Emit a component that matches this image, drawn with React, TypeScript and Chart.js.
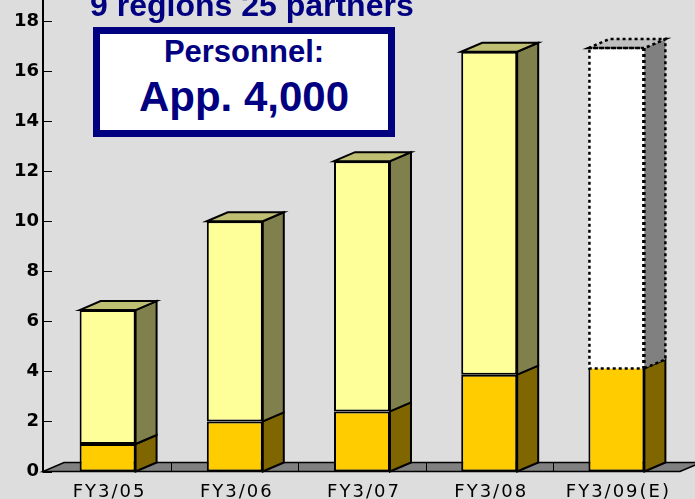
import React, { useEffect, useRef } from 'react';
import { Chart, registerables } from 'chart.js';

Chart.register(...registerables);

// ---- data ----
const categories = ['FY3/05', 'FY3/06', 'FY3/07', 'FY3/08', 'FY3/09(E)'];
const lowerValues = [1.1, 2.0, 2.4, 3.87, 4.12];
const upperValues = [5.35, 8.0, 10.0, 12.9, 12.8];
const estimateIndex = 4;
const yMin = 0;
const yMax = 18;
const yStep = 2;

const titleText = '9 regions 25 partners';
const boxLine1 = 'Personnel:';
const boxLine2 = 'App. 4,000';

// ---- styles ----
const BG = '#dddddd';
const NAVY = '#000080';
const LOW_FRONT = '#ffcc00';
const LOW_SIDE = '#806600';
const UP_FRONT = '#ffff99';
const UP_SIDE = '#80804c';
const UP_TOP = '#bfbf73';
const EST_FRONT = '#ffffff';
const EST_SIDE = '#808080';
const EST_TOP = '#c0c0c0';
const FLOOR = '#808080';
const DX = 21;
const DY = 9;
const AXIS_X = 43;

const threeD = {
  id: 'threeD',
  beforeDatasetsDraw(chart: any) {
    const { ctx, chartArea, scales } = chart;
    const xs = scales.x;
    const ys = scales.y;
    const y0 = ys.getPixelForValue(0);
    const right = chartArea.right;
    ctx.save();
    ctx.beginPath();
    ctx.moveTo(AXIS_X, y0);
    ctx.lineTo(right, y0);
    ctx.lineTo(right + DX, y0 - DY);
    ctx.lineTo(AXIS_X + DX, y0 - DY);
    ctx.closePath();
    ctx.fillStyle = FLOOR;
    ctx.fill();
    ctx.lineWidth = 1.5;
    ctx.strokeStyle = '#000';
    ctx.stroke();
    ctx.lineWidth = 1;
    for (let k = 1; k < categories.length; k++) {
      const xb = Math.round((xs.getPixelForValue(k - 1) + xs.getPixelForValue(k)) / 2) + 0.5;
      ctx.beginPath();
      ctx.moveTo(xb, y0);
      ctx.lineTo(xb, y0 - DY);
      ctx.stroke();
    }
    ctx.restore();
  },
  afterDatasetsDraw(chart: any) {
    const { ctx } = chart;
    ctx.save();
    ctx.strokeStyle = '#000';
    ctx.lineJoin = 'miter';
    for (let d = 0; d < 2; d++) {
      const meta = chart.getDatasetMeta(d);
      meta.data.forEach((el: any, i: number) => {
        const p = el.getProps(['x', 'y', 'base', 'width'], true);
        const left = p.x - p.width / 2;
        const r = p.x + p.width / 2;
        const top = Math.min(p.y, p.base);
        const bottom = Math.max(p.y, p.base);
        const est = d === 1 && i === estimateIndex;
        ctx.setLineDash(est ? [3, 3] : []);
        ctx.lineWidth = est ? 2.5 : 2;
        // side face
        ctx.beginPath();
        ctx.moveTo(r, bottom);
        ctx.lineTo(r + DX, bottom - DY);
        ctx.lineTo(r + DX, top - DY);
        ctx.lineTo(r, top);
        ctx.closePath();
        ctx.fillStyle = d === 0 ? LOW_SIDE : est ? EST_SIDE : UP_SIDE;
        ctx.fill();
        ctx.stroke();
        if (d === 1) {
          // top face
          ctx.beginPath();
          ctx.moveTo(left, top);
          ctx.lineTo(left + DX, top - DY);
          ctx.lineTo(r + DX, top - DY);
          ctx.lineTo(r, top);
          ctx.closePath();
          ctx.fillStyle = est ? EST_TOP : UP_TOP;
          ctx.fill();
          ctx.stroke();
        }
        if (est) {
          ctx.strokeRect(left + 1, top, p.width - 2, bottom - top);
        }
      });
    }
    ctx.restore();
  },
  afterDraw(chart: any) {
    const { ctx, scales } = chart;
    const ys = scales.y;
    const xs = scales.x;
    const y0 = ys.getPixelForValue(0);
    ctx.save();
    // y axis line
    ctx.strokeStyle = '#000';
    ctx.lineWidth = 2;
    ctx.beginPath();
    ctx.moveTo(AXIS_X, 0);
    ctx.lineTo(AXIS_X, y0 + 1);
    ctx.stroke();
    // inward tick marks
    ctx.lineWidth = 1;
    for (let v = yMin; v <= yMax; v += yStep) {
      const py = Math.round(ys.getPixelForValue(v)) + 0.5;
      ctx.beginPath();
      ctx.moveTo(AXIS_X, py);
      ctx.lineTo(AXIS_X + 9, py);
      ctx.stroke();
    }
    // x labels
    ctx.fillStyle = '#000';
    ctx.font = '18px "DejaVu Sans"';
    (ctx as any).letterSpacing = '2px';
    ctx.textAlign = 'center';
    ctx.textBaseline = 'alphabetic';
    categories.forEach((c, i) => {
      ctx.fillText(c, xs.getPixelForValue(i) + 2, 497);
    });
    ctx.restore();
  },
};

export default function App() {
  const ref = useRef<HTMLCanvasElement>(null);
  useEffect(() => {
    const chart = new Chart(ref.current as HTMLCanvasElement, {
      type: 'bar',
      data: {
        labels: categories,
        datasets: [
          {
            label: 'lower',
            data: lowerValues,
            backgroundColor: LOW_FRONT,
            borderColor: '#000',
            borderWidth: (c: any) =>
              c.dataIndex === estimateIndex ? { top: 0, left: 2, right: 2, bottom: 2 } : 2,
            borderSkipped: false,
          },
          {
            label: 'upper',
            data: upperValues,
            backgroundColor: (c: any) => (c.dataIndex === estimateIndex ? EST_FRONT : UP_FRONT),
            borderColor: '#000',
            borderWidth: (c: any) => (c.dataIndex === estimateIndex ? 0 : 2),
            borderSkipped: false,
          },
        ],
      } as any,
      options: {
        responsive: false,
        animation: false,
        layout: { padding: { top: 21, right: 15, left: 0, bottom: 0 } },
        datasets: { bar: { categoryPercentage: 1, barPercentage: 0.44 } },
        plugins: { legend: { display: false }, tooltip: { enabled: false } },
        scales: {
          x: {
            stacked: true,
            grid: { display: false, drawTicks: false },
            border: { display: false },
            ticks: { display: false },
            afterFit: (s: any) => {
              s.height = 27.5;
            },
          },
          y: {
            stacked: true,
            min: yMin,
            max: yMax,
            grid: { display: false, drawTicks: false },
            border: { display: false },
            ticks: {
              stepSize: yStep,
              color: '#000',
              padding: 5,
              font: { family: '"DejaVu Sans"', weight: 'bold', size: 18 },
            },
            afterFit: (s: any) => {
              s.width = 44;
            },
          },
        },
      } as any,
      plugins: [threeD],
    });
    return () => chart.destroy();
  }, []);

  const font = '"Liberation Sans", Arial, sans-serif';
  return (
    <div
      style={{
        position: 'fixed',
        left: 0,
        top: 0,
        width: 695,
        height: 499,
        background: BG,
        overflow: 'hidden',
      }}
    >
      <canvas
        ref={ref}
        width={695}
        height={499}
        style={{ position: 'absolute', left: 0, top: 0, width: 695, height: 499 }}
      />
      <div
        style={{
          position: 'absolute',
          left: 90,
          top: -11,
          fontFamily: font,
          fontWeight: 'bold',
          fontSize: 32,
          lineHeight: '32px',
          color: NAVY,
          whiteSpace: 'nowrap',
        }}
      >
        {titleText}
      </div>
      <div
        style={{
          position: 'absolute',
          left: 93,
          top: 27,
          width: 302,
          height: 110,
          boxSizing: 'border-box',
          border: `7px solid ${NAVY}`,
          background: '#ffffff',
        }}
      />
      <div
        style={{
          position: 'absolute',
          left: 93,
          top: 36,
          width: 302,
          textAlign: 'center',
          fontFamily: font,
          fontWeight: 'bold',
          fontSize: 31,
          lineHeight: '31px',
          color: NAVY,
          whiteSpace: 'nowrap',
        }}
      >
        {boxLine1}
      </div>
      <div
        style={{
          position: 'absolute',
          left: 93,
          top: 76,
          width: 302,
          textAlign: 'center',
          fontFamily: font,
          fontWeight: 'bold',
          fontSize: 42,
          lineHeight: '42px',
          color: NAVY,
          whiteSpace: 'nowrap',
        }}
      >
        {boxLine2}
      </div>
    </div>
  );
}
